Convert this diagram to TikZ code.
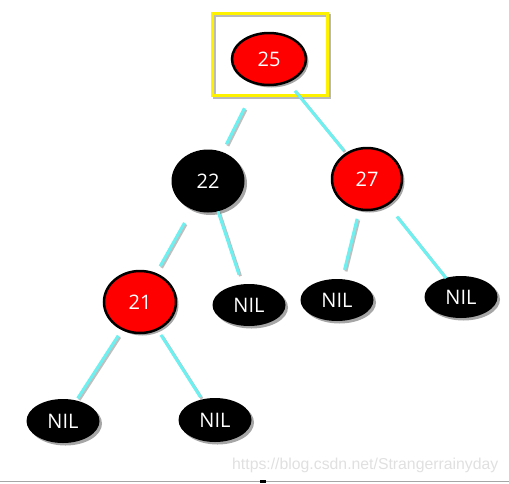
\documentclass[tikz,border=0pt]{standalone}
\usepackage{fontspec}
\setmainfont{Open Sans}
\newfontfamily\wmfont{Liberation Sans}
\usetikzlibrary{shapes.geometric,shadows}
\definecolor{edgecyan}{RGB}{110,240,240}
\tikzset{
  tnode/.style={ellipse, inner sep=0pt, text=white, font=\fontsize{20}{20}\selectfont,
    drop shadow={shadow xshift=2.5pt, shadow yshift=-2.5pt, opacity=0.35, fill=black}},
  rednode/.style={tnode, fill=red, draw=black, line width=2.5pt, minimum width=72pt, minimum height=62pt},
  blacknode/.style={tnode, fill=black, minimum width=73pt, minimum height=63pt},
  nilnode/.style={tnode, fill=black, minimum width=73pt, minimum height=42pt},
  edge/.style={draw=edgecyan, line width=3pt,
    preaction={draw=black, opacity=0.25, line width=3pt, transform canvas={xshift=1.5pt, yshift=-1.5pt}}},
}
\begin{document}
\begin{tikzpicture}[x=1pt, y=-1pt]
\useasboundingbox (0,0) rectangle (509,483);
% highlight frame
\node[draw=yellow, line width=3pt, minimum width=115pt, minimum height=82pt, inner sep=0pt,
  drop shadow={shadow xshift=2.5pt, shadow yshift=-2.5pt, opacity=0.45, fill=none, draw=black!60, line width=3pt}]
  (frame) at (269.5,54) {};
\node[rednode, minimum width=74pt, minimum height=52pt] (n25) at (269,59) {25};
\node[blacknode] (n22) at (208,181) {22};
\node[rednode, minimum width=70pt, minimum height=62pt] (n27) at (367,179) {27};
\node[rednode] (n21) at (140,302) {21};
\node[nilnode] (nil1) at (249,305) {NIL};
\node[nilnode] (nil2) at (337,300) {NIL};
\node[nilnode] (nil3) at (461,297) {NIL};
\node[nilnode, minimum height=44pt] (nil4) at (63,421) {NIL};
\node[nilnode, minimum height=44pt] (nil5) at (215,420) {NIL};
% connectors
\draw[edge, shorten <=55pt, shorten >=41pt] (n25.center) -- (n22.center);
\draw[edge, shorten <=41pt, shorten >=37pt] (n25.center) -- (n27.center);
\draw[edge, shorten <=48pt, shorten >=41pt] (n22.center) -- (n21.center);
\draw[edge, shorten <=32pt, shorten >=32pt] (n22.center) -- (nil1.center);
\draw[edge, shorten <=41pt, shorten >=31pt] (n27.center) -- (nil2.center);
\draw[edge, shorten <=48pt, shorten >=24pt] (n27.center) -- (nil3.center);
\draw[edge, shorten <=40pt, shorten >=27pt] (n21.center) -- (nil4.center);
\draw[edge, shorten <=39pt, shorten >=27pt] (n21.center) -- (nil5.center);
% watermark
\node[anchor=west, inner sep=0pt, text=black!12, font=\wmfont\fontsize{15.8}{16}\selectfont] (wm) at (232,465) {https://blog.csdn.net/Strangerrainyday};
% bottom rule
\coordinate (bl) at (0,481.5);
\coordinate (br) at (509,481.5);
\draw[black!35, line width=1pt] (bl) -- (br);
\fill[black] (260,480) rectangle (266,483);
\end{tikzpicture}
\end{document}
